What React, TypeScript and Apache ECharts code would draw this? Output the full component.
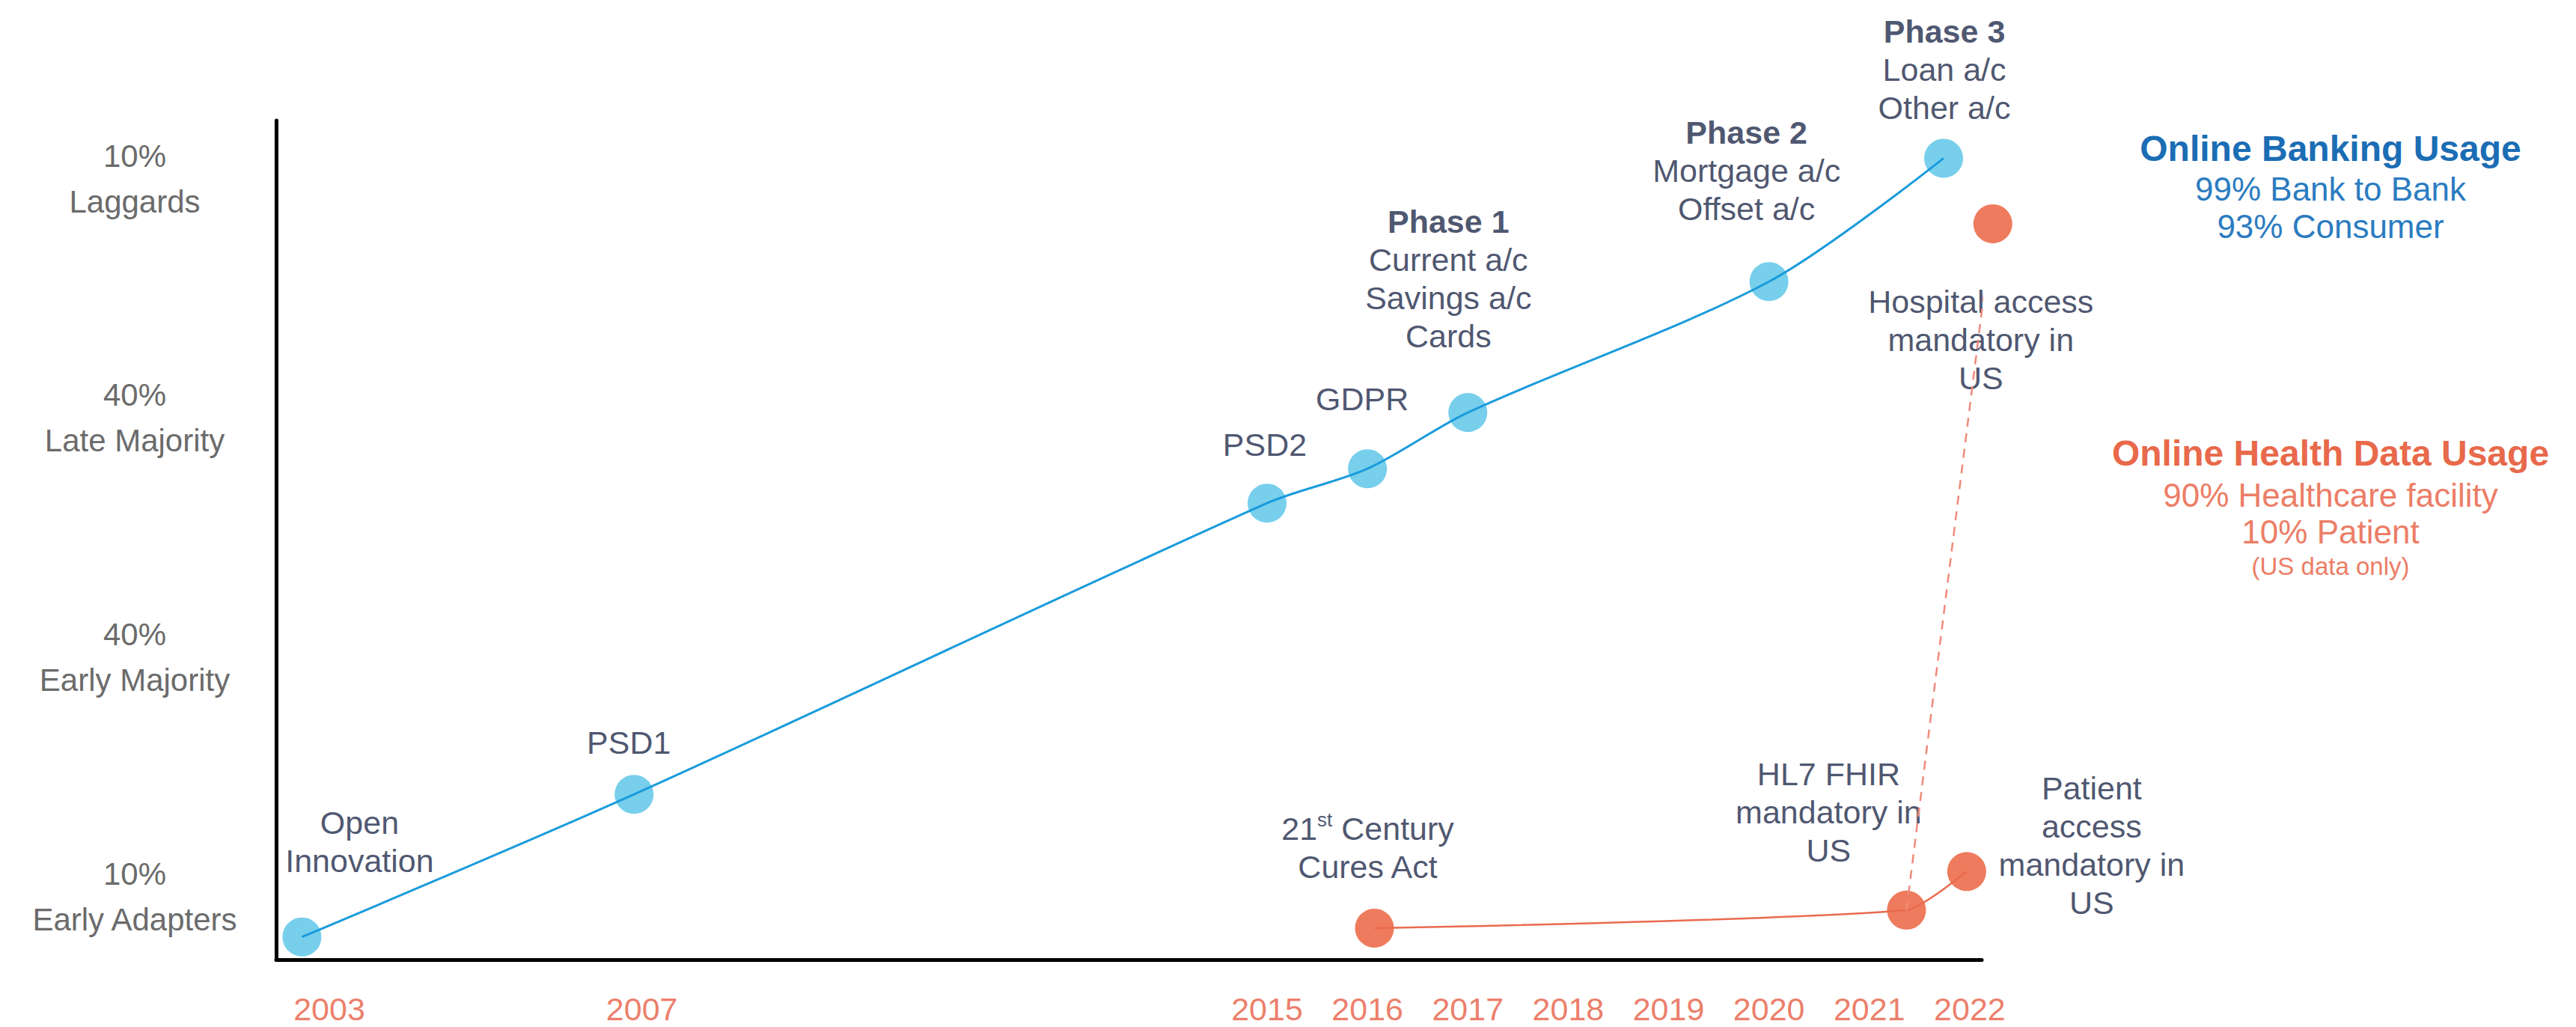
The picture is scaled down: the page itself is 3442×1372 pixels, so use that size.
import React, { useEffect, useRef } from "react";
import * as echarts from "echarts";

// ---------- data ----------
const tickYears = [2003, 2007, 2015, 2016, 2017, 2018, 2019, 2020, 2021, 2022];
const stageLabels = ["10%\nEarly Adapters", "40%\nEarly Majority", "40%\nLate Majority", "10%\nLaggards"];
const stageValues = [7.5, 36.0, 64.6, 93.0];

const bankingLabels = [
  "Open\nInnovation",
  "PSD1",
  "PSD2",
  "GDPR",
  "{b|Phase 1}\nCurrent a/c\nSavings a/c\nCards",
  "{b|Phase 2}\nMortgage a/c\nOffset a/c",
  "{b|Phase 3}\nLoan a/c\nOther a/c",
];
const bankingYears = [2002.65, 2006.9, 2015.0, 2016.0, 2017.0, 2020.0, 2021.74];
const bankingValues = [2.7, 19.7, 54.4, 58.5, 65.2, 80.8, 95.5];

const healthLabels = [
  "21{sup|st} Century\nCures Act",
  "HL7 FHIR\nmandatory in\nUS",
  "Patient\naccess\nmandatory in\nUS",
  "Hospital access\nmandatory in\nUS",
];
const healthYears = [2016.07, 2021.37, 2021.97, 2022.23];
const healthValues = [3.75, 5.9, 10.5, 87.7];
const healthSolid = [0, 1, 2];
const healthDashed = [1, 3];

const bankingNotes = ["Online Banking Usage", "99% Bank to Bank", "93% Consumer"];
const healthNotes = ["Online Health Data Usage", "90% Healthcare facility", "10% Patient", "(US data only)"];

// ---------- layout / style ----------
const FONT = "'Liberation Sans', Arial, Helvetica, sans-serif";
const NAVY = "#1E2A4A";
const BLUE_LINE = "#1A9BDB";
const BLUE_DOT = "#55C3E7";
const ORANGE_DOT = "#EA5A35";
const ORANGE_LINE = "#EA6A50";
const ORANGE_DASH = "#F08A7A";

// compressed timeline: years before 2015 drawn at a tighter spacing
const EARLY_RATIO = 0.7785;
const toT = (y: number) => (y >= 2015 ? y - 2015 : (y - 2015) * EARLY_RATIO);

const bankingOffsets = [
  [77, -127], [-7, -69], [-3, -78], [-7, -93], [-26, -179], [-30, -148], [1, -118],
];
const healthOffsets = [[-9, -107], [-104, -131], [167, -35], [-16, 155]];

const richStyles = {
  b: { fontWeight: "bold", fontSize: 43, lineHeight: 51, color: NAVY, fontFamily: FONT },
  sup: { fontSize: 26, lineHeight: 26, verticalAlign: "top", color: NAVY, fontFamily: FONT },
};

function pointLabel(text: string, offset: number[]) {
  return {
    show: true,
    formatter: text,
    position: "inside",
    offset,
    align: "center",
    verticalAlign: "middle",
    color: NAVY,
    fontSize: 43,
    lineHeight: 51,
    fontFamily: FONT,
    rich: richStyles,
  };
}

export default function App() {
  const ref = useRef<HTMLDivElement>(null);

  useEffect(() => {
    if (!ref.current) return;
    const chart = echarts.init(ref.current, null, { renderer: "svg" });

    const bankingPts = bankingYears.map((y, i) => [toT(y), bankingValues[i]]);
    const healthPts = healthYears.map((y, i) => [toT(y), healthValues[i]]);

    const noteText = (text: string, x: number, y: number, size: number, color: string, bold = false) => ({
      type: "text",
      x,
      y,
      silent: true,
      style: {
        text,
        fontSize: size,
        fontWeight: bold ? "bold" : "normal",
        fontFamily: FONT,
        fill: color,
        align: "center",
        verticalAlign: "middle",
      },
    });

    const option: any = {
      animation: false,
      backgroundColor: "#ffffff",
      grid: { left: 369, right: 794, top: 161, bottom: 90, containLabel: false },
      xAxis: {
        type: "value",
        min: toT(2002.32),
        max: toT(2022.12),
        axisLine: { show: true, onZero: false, lineStyle: { color: "#000", width: 5 } },
        axisTick: { show: false },
        splitLine: { show: false },
        axisLabel: {
          customValues: tickYears.map(toT),
          formatter: (v: number) => {
            const idx = tickYears.findIndex((y) => Math.abs(toT(y) - v) < 1e-6);
            return idx >= 0 ? String(tickYears[idx]) : "";
          },
          color: "#EC7F6B",
          fontSize: 43,
          lineHeight: 43,
          margin: 44,
          fontFamily: FONT,
        },
      },
      yAxis: {
        type: "value",
        min: 0,
        max: 100,
        axisLine: { show: true, onZero: false, lineStyle: { color: "#000", width: 5 } },
        axisTick: { show: false },
        splitLine: { show: false },
        axisLabel: {
          customValues: stageValues,
          formatter: (v: number) => {
            const idx = stageValues.findIndex((s) => Math.abs(s - v) < 1e-6);
            return idx >= 0 ? stageLabels[idx] : "";
          },
          color: "#6B6B6B",
          fontSize: 42,
          lineHeight: 61,
          align: "center",
          margin: 189,
          fontFamily: FONT,
        },
      },
      series: [
        {
          name: "Online Banking events",
          type: "scatter",
          symbolSize: 52,
          clip: false,
          z: 2,
          itemStyle: { color: BLUE_DOT },
          data: bankingPts.map((p, i) => ({
            value: p,
            label: pointLabel(bankingLabels[i], bankingOffsets[i]),
          })),
        },
        {
          name: "Online Health events",
          type: "scatter",
          symbolSize: 52,
          clip: false,
          z: 2,
          itemStyle: { color: ORANGE_DOT },
          data: healthPts.map((p, i) => ({
            value: p,
            label: pointLabel(healthLabels[i], healthOffsets[i]),
          })),
        },
        {
          name: "Online Banking",
          type: "line",
          smooth: 0.3,
          showSymbol: false,
          clip: false,
          z: 3,
          lineStyle: { color: BLUE_LINE, width: 3 },
          data: bankingPts,
        },
        {
          name: "Online Health",
          type: "line",
          smooth: 0.2,
          showSymbol: false,
          clip: false,
          z: 3,
          lineStyle: { color: ORANGE_LINE, width: 2.5 },
          data: healthSolid.map((i) => healthPts[i]),
        },
        {
          name: "Online Health (hospital)",
          type: "line",
          showSymbol: false,
          clip: false,
          z: 3,
          lineStyle: { color: ORANGE_DASH, width: 2.5, type: [12, 9] },
          data: healthDashed.map((i) => healthPts[i]),
        },
      ],
      graphic: [
        noteText(bankingNotes[0], 3114, 198, 48, "#1B6DB4", true),
        noteText(bankingNotes[1], 3114, 252, 44, "#2B7CC0"),
        noteText(bankingNotes[2], 3114, 302, 44, "#2B7CC0"),
        noteText(healthNotes[0], 3114, 605, 48, "#E8694B", true),
        noteText(healthNotes[1], 3114, 661, 44, "#EC7D66"),
        noteText(healthNotes[2], 3114, 710, 44, "#EC7D66"),
        noteText(healthNotes[3], 3114, 756, 33, "#EC7D66"),
      ],
    };

    chart.setOption(option);
    return () => chart.dispose();
  }, []);

  return (
    <div
      ref={ref}
      style={{ position: "fixed", left: 0, top: 0, width: 3442, height: 1372, background: "#fff" }}
    />
  );
}
